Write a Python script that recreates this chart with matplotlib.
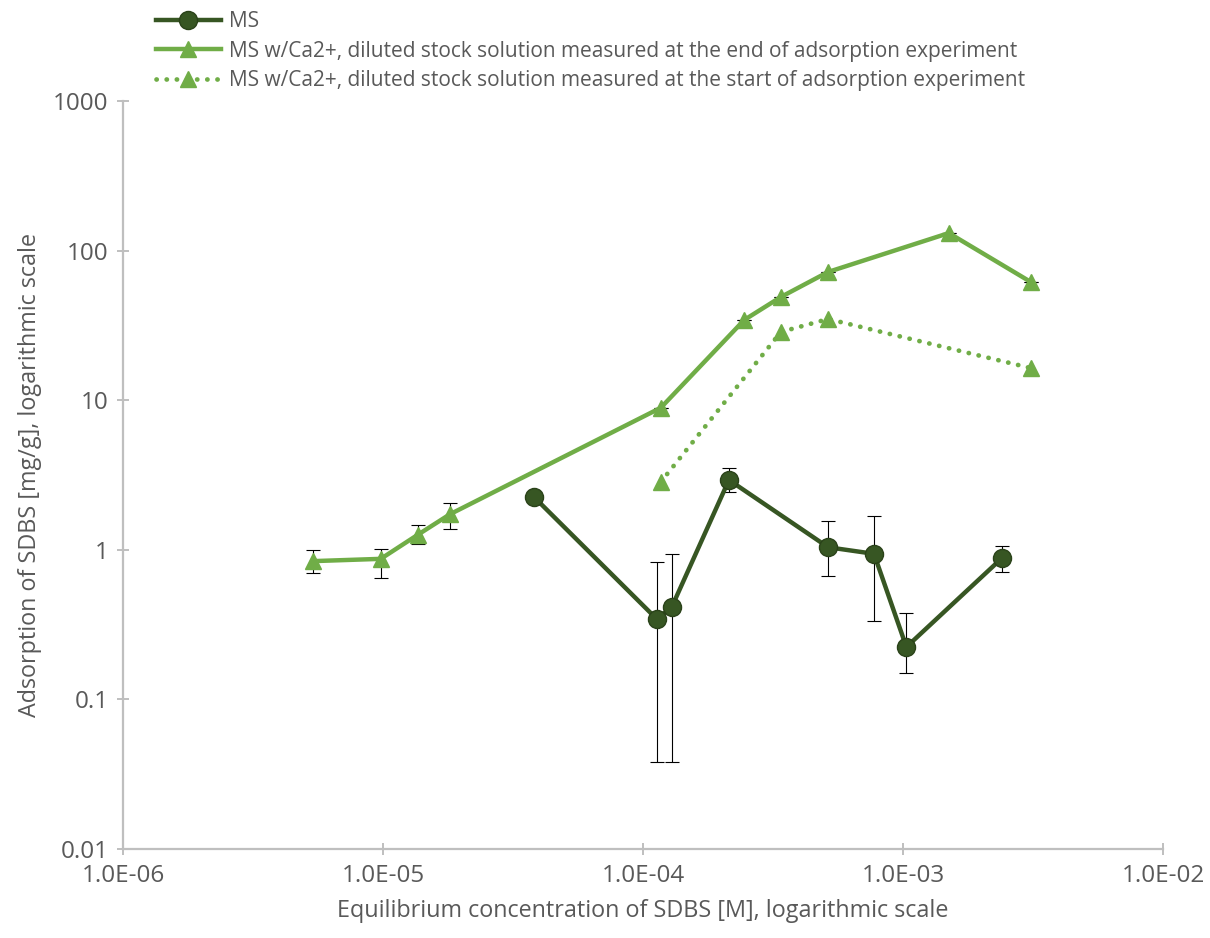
import numpy as np
import matplotlib.pyplot as plt
from matplotlib.ticker import FixedLocator, FixedFormatter, NullLocator

plt.rcParams['font.family'] = ['Open Sans', 'DejaVu Sans']

# MS, no calcium
ms_x = [3.81e-5, 1.13e-4, 1.29e-4, 2.14e-4, 5.15e-4, 7.73e-4, 1.03e-3, 2.4e-3]
ms_y = [2.25, 0.344, 0.415, 2.93, 1.04, 0.94, 0.224, 0.88]
ms_hi = [2.25, 0.83, 0.94, 3.52, 1.56, 1.68, 0.378, 1.06]
ms_lo = [2.25, 0.038, 0.038, 2.43, 0.67, 0.334, 0.15, 0.71]

# MS w/Ca2+, stock measured at end
end_x = [5.38e-6, 9.8e-6, 1.36e-5, 1.81e-5, 1.17e-4, 2.45e-4, 3.39e-4, 5.15e-4, 1.5e-3, 3.1e-3]
end_y = [0.84, 0.87, 1.26, 1.73, 8.9, 34.4, 49.0, 72.0, 131.0, 61.7]
end_hi = [1.0, 1.01, 1.47, 2.06, 8.9, 34.4, 49.0, 72.0, 131.0, 61.7]
end_lo = [0.70, 0.65, 1.09, 1.38, 8.9, 34.4, 49.0, 72.0, 131.0, 61.7]

# MS w/Ca2+, stock measured at start
start_x = [1.17e-4, 3.39e-4, 5.15e-4, 3.1e-3]
start_y = [2.84, 28.6, 34.9, 16.4]

xticks = [1e-6, 1e-5, 1e-4, 1e-3, 1e-2]
xlabels = ['1.0E-06', '1.0E-05', '1.0E-04', '1.0E-03', '1.0E-02']
yticks = [0.01, 0.1, 1, 10, 100, 1000]
ylabels = ['0.01', '0.1', '1', '10', '100', '1000']

dark = '#375623'
light = '#70ad47'
txt = '#595959'
axc = '#bfbfbf'

fig = plt.figure(figsize=(12.1, 9.38), dpi=100)
ax = fig.add_axes([0.1017, 0.0949, 0.8595, 0.7974])

def errs(y, hi, lo):
    y = np.array(y)
    return [y - np.array(lo), np.array(hi) - y]

ax.errorbar(ms_x, ms_y, yerr=errs(ms_y, ms_hi, ms_lo), fmt='none',
            ecolor='black', elinewidth=0.8, capsize=5, capthick=0.8, zorder=2)
ax.errorbar(end_x, end_y, yerr=errs(end_y, end_hi, end_lo), fmt='none',
            ecolor='black', elinewidth=0.8, capsize=5, capthick=0.8, zorder=2)

ax.plot(ms_x, ms_y, color=dark, lw=3.2, marker='o', ms=13,
        mfc=dark, mec='#2a4219', mew=1, label='MS', zorder=3)
ax.plot(end_x, end_y, color=light, lw=3.2, marker='^', ms=12,
        mfc=light, mec=light,
        label='MS w/Ca2+, diluted stock solution measured at the end of adsorption experiment', zorder=3)
ax.plot(start_x, start_y, color=light, lw=3.4, ls=(0, (0.05, 2.1)),
        dash_capstyle='round', marker='^', ms=12, mfc=light, mec=light,
        label='MS w/Ca2+, diluted stock solution measured at the start of adsorption experiment', zorder=3)

ax.set_xscale('log')
ax.set_yscale('log')
ax.set_xlim(1e-6, 1e-2)
ax.set_ylim(0.01, 1000)
ax.xaxis.set_major_locator(FixedLocator(xticks))
ax.xaxis.set_major_formatter(FixedFormatter(xlabels))
ax.yaxis.set_major_locator(FixedLocator(yticks))
ax.yaxis.set_major_formatter(FixedFormatter(ylabels))
ax.xaxis.set_minor_locator(NullLocator())
ax.yaxis.set_minor_locator(NullLocator())

for s in ['top', 'right']:
    ax.spines[s].set_visible(False)
for s in ['left', 'bottom']:
    ax.spines[s].set_color(axc)
    ax.spines[s].set_linewidth(1.6)
ax.tick_params(which='major', direction='inout', length=9, width=1.4,
               color=axc, labelcolor=txt, labelsize=17.5, pad=6)

ax.set_xlabel('Equilibrium concentration of SDBS [M], logarithmic scale',
              fontsize=16.8, color=txt, labelpad=8)
ax.set_ylabel('Adsorption of SDBS [mg/g], logarithmic scale',
              fontsize=16.8, color=txt, labelpad=8)

leg = fig.legend(loc='upper left', bbox_to_anchor=(0.117, 1.004), frameon=False,
                 fontsize=15, handlelength=3.1, handletextpad=0.4,
                 labelspacing=0.42, labelcolor=txt, borderaxespad=0.3)

fig.savefig('out.png', dpi=100)
